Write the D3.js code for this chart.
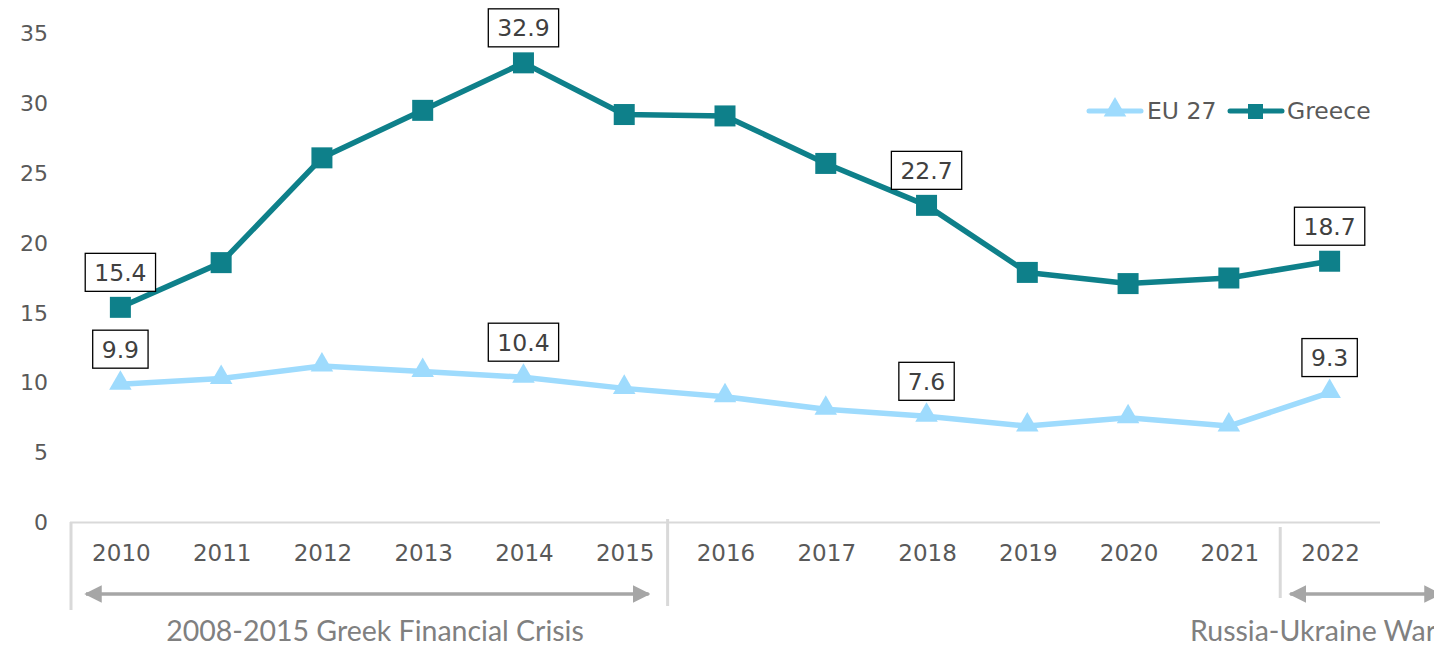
<!DOCTYPE html>
<html><head><meta charset="utf-8">
<script src="https://cdn.jsdelivr.net/npm/d3@7"></script>
<style>body{margin:0;background:#fff;overflow:hidden}svg{display:block}</style>
</head><body>
<svg id="c" width="1434" height="656"></svg>
<script>
const years = ["2010","2011","2012","2013","2014","2015","2016","2017","2018","2019","2020","2021","2022"];
const greece = [15.4,18.6,26.1,29.5,32.9,29.2,29.1,25.7,22.7,17.9,17.1,17.5,18.7];
const eu27 = [9.9,10.3,11.2,10.8,10.4,9.6,9.0,8.1,7.6,6.9,7.5,6.9,9.3];
const yTicks = [0,5,10,15,20,25,30,35];
const greeceLabeled = ["2010","2014","2018","2022"];
const euLabeled = ["2010","2014","2018","2022"];
const periods = [
  {label:"2008-2015 Greek Financial Crisis", from:"2010", to:"2015"},
  {label:"Russia-Ukraine War", from:"2022", to:null}
];

const W=1434,H=656;
const svg=d3.select("#c");
const x=d3.scaleBand().domain(years).range([70,1380]).padding(0);
const cx=d=>x(d)+x.bandwidth()/2;
const y=d3.scaleLinear().domain([0,35]).range([522.5,33.5]);

const COL_GR="#0e808a", COL_EU="#9edbfd";
const TXT="#595959";

// y tick labels
svg.append("g").selectAll("text").data(yTicks).join("text")
  .attr("x",48).attr("y",d=>y(d)).attr("dy","0.35em").attr("text-anchor","end")
  .attr("font-family","DejaVu Sans").attr("font-size",22).attr("fill",TXT).text(d=>d);

// x axis line
svg.append("line").attr("x1",x.range()[0]).attr("x2",x.range()[1]).attr("y1",y(0)).attr("y2",y(0))
  .attr("stroke","#d9d9d9").attr("stroke-width",2);
// year labels
svg.append("g").selectAll("text").data(years).join("text")
  .attr("x",d=>cx(d)+1).attr("y",553).attr("dy","0.35em").attr("text-anchor","middle")
  .attr("font-family","DejaVu Sans").attr("font-size",23).attr("fill",TXT).text(d=>d);

// group separators
const sepX=[x("2010")+1, x("2016")-7, x("2022")+1];
const sepY=[[522,610],[519,606],[527,598]];
sepX.forEach((sx,i)=>svg.append("line").attr("x1",sx).attr("x2",sx).attr("y1",sepY[i][0]).attr("y2",sepY[i][1])
  .attr("stroke","#d9d9d9").attr("stroke-width",3));

// arrows
const defs=svg.append("defs");
defs.append("marker").attr("id","ah").attr("viewBox","0 0 10 10").attr("refX",9).attr("refY",5)
  .attr("markerWidth",5).attr("markerHeight",5).attr("markerUnits","strokeWidth").attr("orient","auto-start-reverse")
  .append("path").attr("d","M0,0L10,5L0,10z").attr("fill","#a6a6a6");
const ARR="#a6a6a6";
function arrow(x1,x2,yy){
  svg.append("line").attr("x1",x1).attr("x2",x2).attr("y1",yy).attr("y2",yy)
    .attr("stroke",ARR).attr("stroke-width",3.5)
    .attr("marker-start","url(#ah)").attr("marker-end","url(#ah)");
}
arrow(x(periods[0].from)+16, x(periods[0].to)+x.bandwidth()-26, 594);
arrow(x(periods[1].from)+11, W+6, 594);
svg.append("text").attr("x",375).attr("y",641)
  .attr("text-anchor","middle").attr("font-family","Lato").attr("font-size",28.5).attr("fill","#808080").text(periods[0].label);
svg.append("text").attr("x",1190).attr("y",641)
  .attr("text-anchor","start").attr("font-family","Lato").attr("font-size",28.5).attr("fill","#808080").text(periods[1].label);

// lines
const line=d3.line().x((d,i)=>cx(years[i])).y(d=>y(d));
svg.append("path").datum(eu27).attr("d",line).attr("fill","none").attr("stroke",COL_EU).attr("stroke-width",5.5).attr("stroke-linejoin","round");
svg.append("path").datum(greece).attr("d",line).attr("fill","none").attr("stroke",COL_GR).attr("stroke-width",5.5).attr("stroke-linejoin","round");

// markers
const tri=d3.symbol().type(d3.symbolTriangle).size(220);
svg.append("g").selectAll("path").data(eu27).join("path")
  .attr("d",tri).attr("transform",(d,i)=>`translate(${cx(years[i])},${y(d)-1})`).attr("fill",COL_EU);
svg.append("g").selectAll("rect").data(greece).join("rect")
  .attr("x",(d,i)=>cx(years[i])-10.5).attr("y",d=>y(d)-10.5).attr("width",21).attr("height",21).attr("fill",COL_GR);

// data labels
function labels(vals,which){
  years.forEach((yr,i)=>{
    if(!which.includes(yr)) return;
    const t=vals[i].toFixed(1);
    const g=svg.append("g").attr("transform",`translate(${cx(yr)},${y(vals[i])-35})`);
    const txt=g.append("text").attr("text-anchor","middle").attr("dy","0.36em")
      .attr("font-family","DejaVu Sans").attr("font-size",23.5).attr("fill","#404040").text(t);
    const bb=txt.node().getBBox();
    g.insert("rect","text").attr("x",bb.x-9).attr("y",-19).attr("width",bb.width+18).attr("height",38)
      .attr("fill","#fff").attr("stroke","#000").attr("stroke-width",1.3);
  });
}
labels(greece,greeceLabeled);
labels(eu27,euLabeled);

// legend
const lg=svg.append("g");
lg.append("line").attr("x1",1089).attr("x2",1141).attr("y1",111).attr("y2",111).attr("stroke",COL_EU).attr("stroke-width",5).attr("stroke-linecap","round");
lg.append("path").attr("d",tri).attr("transform","translate(1115,110)").attr("fill",COL_EU);
lg.append("text").attr("x",1147).attr("y",111).attr("dy","0.35em").attr("font-family","DejaVu Sans").attr("font-size",23.5).attr("fill",TXT).text("EU 27");
lg.append("line").attr("x1",1230).attr("x2",1282).attr("y1",111).attr("y2",111).attr("stroke",COL_GR).attr("stroke-width",5).attr("stroke-linecap","round");
lg.append("rect").attr("x",1248).attr("y",104).attr("width",15).attr("height",15).attr("fill",COL_GR);
lg.append("text").attr("x",1287).attr("y",111).attr("dy","0.35em").attr("font-family","DejaVu Sans").attr("font-size",23.5).attr("fill",TXT).text("Greece");
</script>
</body></html>
